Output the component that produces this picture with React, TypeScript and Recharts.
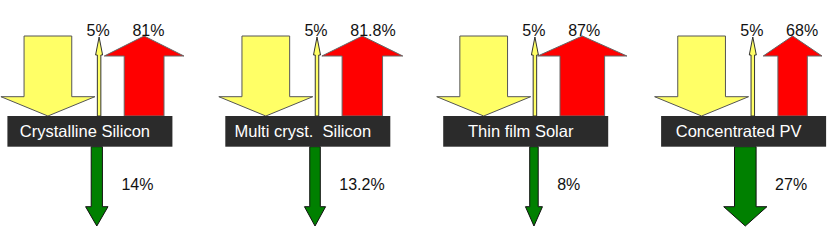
import { ComposedChart, Scatter, XAxis, YAxis } from 'recharts';

const technologies = ['Crystalline Silicon', 'Multi cryst.  Silicon', 'Thin film Solar', 'Concentrated PV'];
const sunlight = [100, 100, 100, 100];
const reflected = [5, 5, 5, 5];
const heat = [81, 81.8, 87, 68];
const electricity = [14, 13.2, 8, 27];
const heatLabels = ['81%', '81.8%', '87%', '68%'];
const electricityLabels = ['14%', '13.2%', '8%', '27%'];
const reflectedLabels = ['5%', '5%', '5%', '5%'];

const rows = technologies.map((name, idx) => ({
  idx,
  name,
  sunlight: sunlight[idx],
  reflected: reflected[idx],
  heat: heat[idx],
  electricity: electricity[idx],
  heatLabel: heatLabels[idx],
  electricityLabel: electricityLabels[idx],
  reflectedLabel: reflectedLabels[idx],
}));

const FONT = '"Liberation Sans", Arial, sans-serif';
const TEXT = '#111111';

// arrow polygon: shaft from y0 to yb, head from yb to tip yt
function arrowPoints(cx: number, w: number, hw: number, y0: number, yb: number, yt: number) {
  return [
    [cx - w / 2, y0],
    [cx + w / 2, y0],
    [cx + w / 2, yb],
    [cx + hw / 2, yb],
    [cx, yt],
    [cx - hw / 2, yb],
    [cx - w / 2, yb],
  ]
    .map((p) => p.join(','))
    .join(' ');
}

const SunShape = (props: any) => {
  const { cx, payload } = props;
  const w = payload.sunlight * 0.477;
  const c = cx + 40.5;
  return <polygon points={arrowPoints(c, w, w * 1.97, 36, 96.7, 116)} fill="#ffff66" stroke="#555555" strokeWidth={1} />;
};

const ReflectShape = (props: any) => {
  const { cx, payload } = props;
  const w = payload.reflected * 0.7;
  const c = cx + 91.7;
  return (
    <g>
      <polygon points={arrowPoints(c, w, w * 2, 116, 55, 37)} fill="#ffff66" stroke="#333333" strokeWidth={1} />
      <text x={c - 1} y={35.5} textAnchor="middle" fontFamily={FONT} fontSize={16} fill={TEXT}>
        {payload.reflectedLabel}
      </text>
    </g>
  );
};

const HeatShape = (props: any) => {
  const { cx, payload } = props;
  const w = payload.heat * 0.8 - 25;
  const c = cx + 116.8 + w / 2;
  return (
    <g>
      <polygon points={arrowPoints(c, w, w * 2, 116, 56, 36)} fill="#ff0000" stroke="#666666" strokeWidth={1} />
      <text x={cx + 125} y={35.5} textAnchor="start" fontFamily={FONT} fontSize={16} fill={TEXT}>
        {payload.heatLabel}
      </text>
    </g>
  );
};

const ElecShape = (props: any) => {
  const { cx, payload } = props;
  const w = Math.max(8.5, payload.electricity * 0.8);
  const c = cx + 95 - w / 2;
  return (
    <g>
      <polygon points={arrowPoints(c, w, w * 2, 146.7, 206.7, 226)} fill="#008000" stroke="#111111" strokeWidth={1} />
      <text x={cx + 114} y={190} textAnchor="start" fontFamily={FONT} fontSize={16} fill={TEXT}>
        {payload.electricityLabel}
      </text>
    </g>
  );
};

const NameShape = (props: any) => {
  const { cx, payload } = props;
  return (
    <g>
      <rect x={cx} y={116} width={165} height={30.7} fill="#2b2b2b" />
      <text
        x={cx + 77.5}
        y={136.7}
        textAnchor="middle"
        fontFamily={FONT}
        fontSize={16.5}
        fill="#ffffff"
        style={{ whiteSpace: 'pre' }}
      >
        {payload.name}
      </text>
    </g>
  );
};

export default function App() {
  return (
    <div style={{ position: 'absolute', left: 0, top: 0, width: 839, height: 243, background: '#ffffff' }}>
      <ComposedChart width={839} height={243} data={rows} margin={{ top: 0, right: 0, bottom: 0, left: 0 }}>
        <XAxis type="number" dataKey="idx" domain={[-0.034, 3.8164]} hide />
        <YAxis type="number" domain={[0, 100]} hide />
        <Scatter dataKey="sunlight" shape={SunShape} isAnimationActive={false} />
        <Scatter dataKey="reflected" shape={ReflectShape} isAnimationActive={false} />
        <Scatter dataKey="heat" shape={HeatShape} isAnimationActive={false} />
        <Scatter dataKey="electricity" shape={ElecShape} isAnimationActive={false} />
        <Scatter dataKey="sunlight" shape={NameShape} isAnimationActive={false} />
      </ComposedChart>
    </div>
  );
}
